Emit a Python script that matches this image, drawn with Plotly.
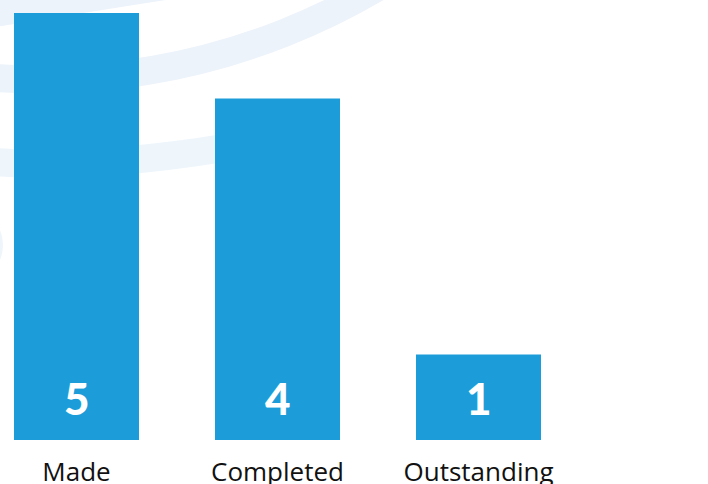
import plotly.graph_objects as go

# ---- data ----
categories = ["Made", "Completed", "Outstanding"]
values = [5, 4, 1]
value_labels = ["5", "4", "1"]

BAR_COLOR = "#1C9DD9"
W, H = 708, 484
PLOT_BOTTOM = 440  # pixel row of the plot's bottom edge


def px(x):
    return x / W


def py(y):
    return (PLOT_BOTTOM - y) / PLOT_BOTTOM


fig = go.Figure()
fig.add_trace(go.Bar(
    x=list(range(len(categories))),
    y=values,
    width=0.622,
    marker=dict(color=BAR_COLOR, line=dict(width=0)),
    hoverinfo="skip",
))

# value labels near the base of each bar
for i, t in enumerate(value_labels):
    fig.add_annotation(
        x=i, y=0, xref="x", yref="y", text=t, showarrow=False,
        yanchor="middle", yshift=42,
        font=dict(family="Lato", size=44, color="white", weight=900),
    )

shapes = []
# decorative background arcs
c2x, c2y, r2 = 40.5, -582.6, 662
shapes.append(dict(
    type="circle", xref="paper", yref="paper", layer="below",
    x0=px(c2x - r2), x1=px(c2x + r2), y0=py(c2y + r2), y1=py(c2y - r2),
    line=dict(color="#EDF3FA", width=28), fillcolor="rgba(0,0,0,0)",
))
shapes.append(dict(
    type="path", xref="paper", yref="paper", layer="below",
    path=f"M {px(-60)},{py(21.5)} L {px(220)},{py(-22.8)}",
    line=dict(color="#EDF3FA", width=28),
))
shapes.append(dict(
    type="path", xref="paper", yref="paper", layer="below",
    path=f"M {px(-40)},{py(158)} Q {px(80)},{py(176)} {px(270)},{py(140)}",
    line=dict(color="#EEF6FC", width=28),
))
shapes.append(dict(
    type="circle", xref="paper", yref="paper", layer="below",
    x0=px(-36 - 39), x1=px(-36 + 39), y0=py(245 + 39), y1=py(245 - 39),
    line=dict(width=0), fillcolor="#EEF6FC",
))

fig.update_layout(
    width=W, height=H,
    margin=dict(l=0, r=0, t=0, b=H - PLOT_BOTTOM, pad=0, autoexpand=False),
    paper_bgcolor="white", plot_bgcolor="rgba(0,0,0,0)",
    showlegend=False,
    shapes=shapes,
    xaxis=dict(
        range=[-76.5 / 201, (W - 76.5) / 201],
        tickmode="array", tickvals=list(range(len(categories))), ticktext=categories,
        showgrid=False, zeroline=False, showline=False, ticks="",
        tickfont=dict(family="Open Sans", size=26, color="#111111"),
        ticklabelstandoff=14,
        automargin=False,
        fixedrange=True,
    ),
    yaxis=dict(
        range=[0, PLOT_BOTTOM / 85.4], visible=False, showgrid=False, zeroline=False,
        automargin=False, fixedrange=True,
    ),
)

fig.write_html(
    "out.html",
    config={"displayModeBar": False},
    post_script="document.body.style.margin='0';document.body.style.overflow='hidden';",
)
